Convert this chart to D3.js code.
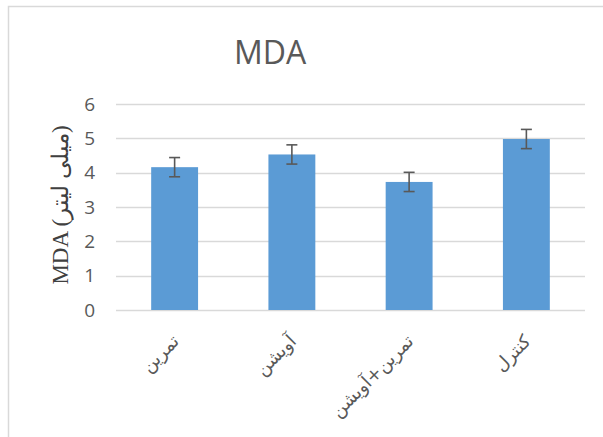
<!DOCTYPE html>
<html>
<head>
<meta charset="utf-8">
<script src="https://cdn.jsdelivr.net/npm/d3@7"></script>
<style>
  body { margin: 0; background: #fff; }
  svg { display: block; }
</style>
</head>
<body>
<div id="chart"></div>
<script>
(function() {

  var width = 603,
      height = 437;

  // data
  var categories = ["تمرین", "آویشن", "تمرین+آویشن", "کنترل"];
  var means = [4.16, 4.53, 3.73, 4.98];
  var errors = [0.28, 0.28, 0.28, 0.28];
  var yTicks = [0, 1, 2, 3, 4, 5, 6];

  var margin = {top: 104, right: 18, bottom: 127, left: 116};

  var svg = d3.select("#chart").append("svg")
      .attr("width", width)
      .attr("height", height);

  // chart area border (right / bottom edges are cut off)
  svg.append("rect")
      .attr("x", 8.5)
      .attr("y", 6.5)
      .attr("width", 800)
      .attr("height", 800)
      .style("fill", "#fff")
      .style("stroke", "#d9d9d9")
      .style("stroke-width", 1.5);

  var x = d3.scaleBand()
      .domain(categories)
      .range([margin.left, width - margin.right])
      .paddingInner(0.6)
      .paddingOuter(0.3);

  var y = d3.scaleLinear()
      .domain([0, 6])
      .range([height - margin.bottom, margin.top]);

  // gridlines
  svg.append("g")
      .selectAll("line")
      .data(yTicks)
    .enter().append("line")
      .attr("x1", margin.left)
      .attr("x2", width - margin.right)
      .attr("y1", function(d) { return Math.round(y(d)) + 0.5; })
      .attr("y2", function(d) { return Math.round(y(d)) + 0.5; })
      .style("stroke", "#d9d9d9")
      .style("stroke-width", 1.3);

  // y tick labels
  var yAxis = svg.append("g")
      .attr("transform", "translate(" + margin.left + ",0)")
      .call(d3.axisLeft(y).tickValues(yTicks).tickFormat(d3.format("d")).tickSize(0).tickPadding(21));
  yAxis.select(".domain").remove();
  yAxis.selectAll("text")
      .style("font-family", "'Open Sans', sans-serif")
      .style("font-size", "19px")
      .style("fill", "#595959");

  // bars
  svg.append("g")
      .selectAll("rect")
      .data(means)
    .enter().append("rect")
      .attr("x", function(d, i) { return x(categories[i]); })
      .attr("y", function(d) { return y(d); })
      .attr("width", x.bandwidth())
      .attr("height", function(d) { return y(0) - y(d); })
      .style("fill", "#5b9bd5");

  // error bars
  var eb = svg.append("g")
      .selectAll("g")
      .data(means)
    .enter().append("g")
      .style("stroke", "#595959")
      .style("stroke-width", 1.6);

  eb.append("line")
      .attr("x1", function(d, i) { return x(categories[i]) + x.bandwidth() / 2; })
      .attr("x2", function(d, i) { return x(categories[i]) + x.bandwidth() / 2; })
      .attr("y1", function(d, i) { return y(d - errors[i]); })
      .attr("y2", function(d, i) { return y(d + errors[i]); });

  [-1, 1].forEach(function(s) {
    eb.append("line")
        .attr("x1", function(d, i) { return x(categories[i]) + x.bandwidth() / 2 - 5.5; })
        .attr("x2", function(d, i) { return x(categories[i]) + x.bandwidth() / 2 + 5.5; })
        .attr("y1", function(d, i) { return y(d + s * errors[i]); })
        .attr("y2", function(d, i) { return y(d + s * errors[i]); });
  });

  // category labels, rotated
  svg.append("g")
      .selectAll("text")
      .data(categories)
    .enter().append("text")
      .attr("transform", function(d) {
        return "translate(" + (x(d) + x.bandwidth() / 2 + 1) + "," + 338 + ")rotate(-45)";
      })
      .attr("text-anchor", "end")
      .attr("dy", "0.35em")
      .style("font-family", "'DejaVu Sans', sans-serif")
      .style("font-size", "18px")
      .style("fill", "#595959")
      .text(function(d) { return d; });

  // y axis title
  svg.append("text")
      .attr("transform", "translate(68,205)rotate(-90)")
      .attr("text-anchor", "middle")
      .style("font-family", "'Liberation Serif', serif")
      .style("font-size", "23px")
      .style("fill", "#404040")
      .text("MDA (میلی لیتر)");

  // chart title
  svg.append("text")
      .attr("x", 270)
      .attr("y", 64)
      .attr("text-anchor", "middle")
      .style("font-family", "'Open Sans', sans-serif")
      .style("font-size", "32px")
      .style("fill", "#595959")
      .text("MDA");

})();
</script>
</body>
</html>
